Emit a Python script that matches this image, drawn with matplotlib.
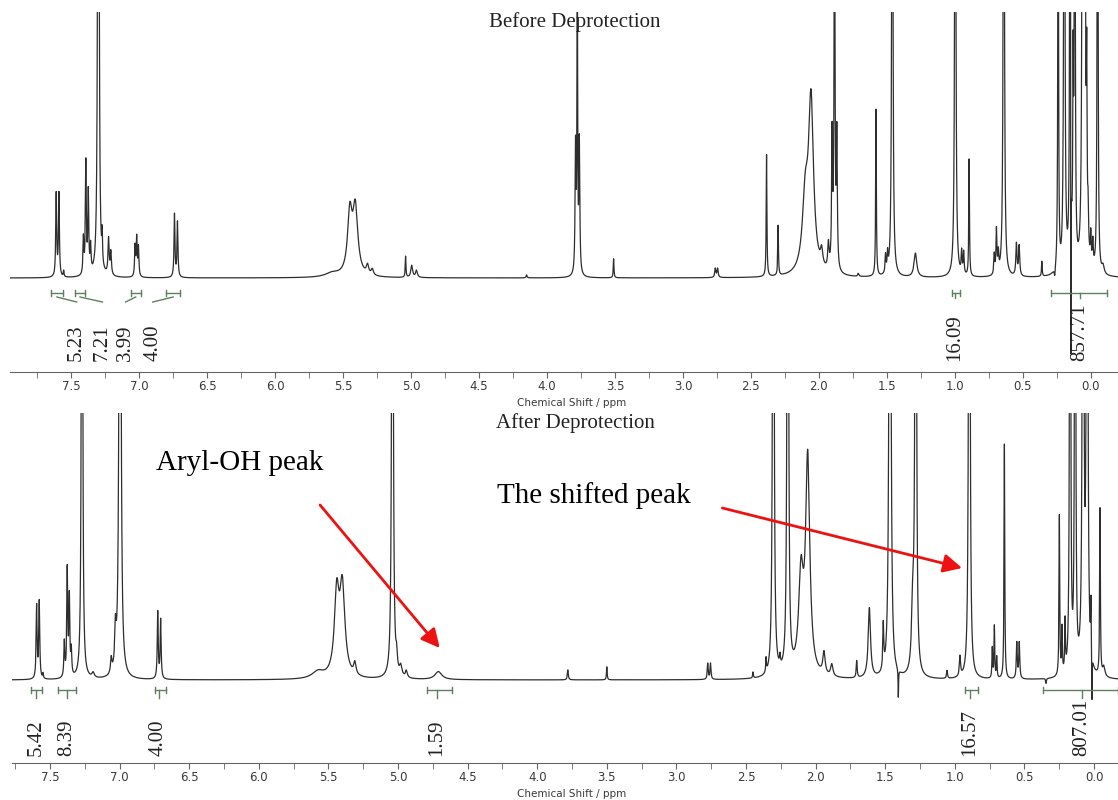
import numpy as np
import matplotlib.pyplot as plt

# chemical shift grid (ppm)
ppm = np.linspace(-0.3, 8.0, 40000)

# Before deprotection: peak list (ppm, intensity, half width)
before_pos = [7.610, 7.590, 7.555, 7.410, 7.392, 7.374, 7.357, 7.300, 7.272, 7.225,
              7.208, 7.030, 7.018, 7.005, 6.740, 6.718, 5.580, 5.450, 5.410, 5.320,
              5.285, 5.040, 4.995, 4.960, 4.150, 3.790, 3.777, 3.762, 3.510, 2.762,
              2.745, 2.385, 2.300, 2.100, 2.058, 1.980, 1.930, 1.903, 1.885, 1.868,
              1.710, 1.580, 1.510, 1.495, 1.460, 1.290, 0.997, 0.950, 0.935, 0.895,
              0.710, 0.694, 0.680, 0.640, 0.547, 0.527, 0.360, 0.265, 0.240, 0.195,
              0.152, 0.147, 0.130, 0.118, 0.060, 0.045, 0.030, 0.020, 0.000, -0.015,
              -0.050, -0.090]
before_int = [83, 83, 6, 36, 112, 81, 26, 1500, 29, 36,
              23, 30, 38, 29, 63, 55, 4, 60, 66, 9,
              6, 21, 12, 7, 3, 125, 300, 130, 19, 9,
              9, 122, 50, 70, 170, 16, 25, 130, 400, 130,
              3, 167, 18, 18, 800, 24, 800, 22, 22, 117,
              20, 44, 19, 800, 32, 30, 15, -9, 500, 800,
              900, -330, 178, 800, 900, 900, 165, 40, 30, 25,
              800, 8]
before_hw = [0.004, 0.004, 0.003, 0.004, 0.004, 0.004, 0.004, 0.0035, 0.003, 0.005,
             0.005, 0.004, 0.004, 0.004, 0.004, 0.004, 0.06, 0.02, 0.022, 0.01,
             0.01, 0.003, 0.008, 0.008, 0.004, 0.004, 0.003, 0.004, 0.003, 0.005,
             0.005, 0.003, 0.003, 0.025, 0.022, 0.01, 0.006, 0.004, 0.004, 0.004,
             0.005, 0.003, 0.004, 0.004, 0.004, 0.012, 0.004, 0.004, 0.004, 0.003,
             0.004, 0.004, 0.004, 0.004, 0.005, 0.005, 0.003, 0.004, 0.003, 0.004,
             0.003, 0.0015, 0.003, 0.003, 0.004, 0.004, 0.003, 0.004, 0.004, 0.004,
             0.003, 0.01]

# After deprotection
after_pos = [7.596, 7.577, 7.550, 7.397, 7.376, 7.361, 7.347, 7.270, 7.190, 7.060,
             7.030, 6.997, 6.726, 6.705, 5.575, 5.440, 5.400, 5.310, 5.040, 5.010,
             4.980, 4.940, 4.710, 3.780, 3.500, 2.775, 2.755, 2.450, 2.356, 2.304,
             2.256, 2.200, 2.105, 2.057, 1.940, 1.884, 1.705, 1.614, 1.514, 1.466,
             1.406, 1.302, 1.281, 1.056, 0.963, 0.896, 0.731, 0.716, 0.699, 0.644,
             0.555, 0.537, 0.345, 0.249, 0.230, 0.208, 0.172, 0.136, 0.079, 0.050,
             0.022, 0.015, -0.043, -0.070]
after_int = [73, 77, 5, 35, 107, 78, 25, 1200, 5, 15,
             38, 1200, 67, 59, 7, 80, 88, 12, 1200, 15,
             10, 7, 8, 10, 13, 16, 16, 6, 14, 1200,
             10, 1200, 95, 215, 22, 12, 17, 70, 45, 1200,
             -28, 65, 1200, 8, 20, 1200, 30, 52, 21, 235,
             36, 36, -5, 160, 45, 50, 1200, 1200, 1200, 1200,
             55, -50, 167, 10]
after_hw = [0.004, 0.004, 0.003, 0.004, 0.004, 0.004, 0.004, 0.0035, 0.01, 0.006,
            0.006, 0.005, 0.004, 0.004, 0.05, 0.02, 0.022, 0.01, 0.004, 0.006,
            0.01, 0.008, 0.03, 0.004, 0.003, 0.004, 0.004, 0.003, 0.003, 0.004,
            0.004, 0.004, 0.02, 0.018, 0.01, 0.01, 0.004, 0.01, 0.004, 0.005,
            0.002, 0.01, 0.004, 0.004, 0.005, 0.004, 0.003, 0.003, 0.003, 0.003,
            0.004, 0.004, 0.003, 0.003, 0.003, 0.003, 0.003, 0.003, 0.004, 0.004,
            0.003, 0.0015, 0.003, 0.01]

# integration regions (ppm from, to), values, label position
before_regions = [(7.65, 7.56), (7.47, 7.40), (7.06, 6.99), (6.80, 6.70), (1.02, 0.965), (0.29, -0.12)]
before_values = ["5.23", "7.21", "3.99", "4.00", "16.09", "857.71"]
before_label_at = [7.46, 7.27, 7.10, 6.90, 1.00, 0.08]

after_regions = [(7.64, 7.56), (7.44, 7.31), (6.745, 6.67), (4.79, 4.61), (0.927, 0.833), (0.37, -0.17)]
after_values = ["5.42", "8.39", "4.00", "1.59", "16.57", "807.01"]
after_label_at = [7.60, 7.38, 6.72, 4.72, 0.89, 0.09]


def spectrum(pos, inten, hw):
    y = np.zeros_like(ppm)
    for p, h, w in zip(pos, inten, hw):
        y += h * w**2 / ((ppm - p)**2 + w**2)
    return y


W, H = 1118, 800
fig = plt.figure(figsize=(W / 100, H / 100), dpi=100)
ax1 = fig.add_axes([10 / W, 1 - 372 / H, 1108 / W, 360 / H])
ax2 = fig.add_axes([12 / W, 1 - 763 / H, 1106 / W, 350 / H])

line_c = '#2e2e2e'
integ_c = '#5e8060'

ax1.plot(ppm, spectrum(before_pos, before_int, before_hw), color=line_c, lw=0.9)
ax2.plot(ppm, spectrum(after_pos, after_int, after_hw), color=line_c, lw=0.9)

ax1.set_xlim(7.95, -0.2)
ax1.set_ylim(-94, 266)
ax2.set_xlim(7.773, -0.172)
ax2.set_ylim(-83, 267)

for ax in (ax1, ax2):
    for s in ('top', 'left', 'right'):
        ax.spines[s].set_visible(False)
    ax.spines['bottom'].set_color('#666666')
    ax.set_yticks([])
    ax.set_xticks(np.arange(0, 8.0, 0.5))
    ax.set_xticks(np.arange(0, 8.0, 0.25), minor=True)
    ax.tick_params(axis='x', which='both', direction='out', length=4, color='#666666',
                   labelsize=8.5, labelcolor='#3a3a3a', pad=2)
    ax.xaxis.set_major_formatter(plt.FuncFormatter(lambda v, p: f"{v:.1f}"))

# integrals, top panel
for (a, b), val, lx in zip(before_regions, before_values, before_label_at):
    ax1.plot([a, b], [-15, -15], color=integ_c, lw=1)
    ax1.plot([a, a], [-18, -12], color=integ_c, lw=1)
    ax1.plot([b, b], [-18, -12], color=integ_c, lw=1)
    c = (a + b) / 2
    if abs(c - lx) > 0.05:
        ax1.plot([c, lx], [-19, -24], color=integ_c, lw=1)
    else:
        ax1.plot([lx, lx], [-15, -20], color=integ_c, lw=1)
    ax1.text(lx, -83, val, rotation=90, ha='center', va='bottom', fontsize=15,
             family='Liberation Serif', color='#222222')

# integrals, bottom panel
for (a, b), val, lx in zip(after_regions, after_values, after_label_at):
    ax2.plot([a, b], [-10, -10], color=integ_c, lw=1, clip_on=False)
    ax2.plot([a, a], [-13, -7], color=integ_c, lw=1)
    ax2.plot([b, b], [-13, -7], color=integ_c, lw=1, clip_on=False)
    ax2.plot([lx, lx], [-10, -18], color=integ_c, lw=1)
    ax2.text(lx, -76, val, rotation=90, ha='center', va='bottom', fontsize=15,
             family='Liberation Serif', color='#222222')

# titles and axis labels
fig.text(575 / W, 1 - 22 / H, 'Before Deprotection', ha='center', va='center',
         fontsize=15, family='Liberation Serif', color='#222222')
fig.text(575 / W, 1 - 423 / H, 'After Deprotection', ha='center', va='center',
         fontsize=15, family='Liberation Serif', color='#222222')
fig.text(572 / W, 1 - 403 / H, 'Chemical Shift / ppm', ha='center', va='center',
         fontsize=7.5, color='#3a3a3a')
fig.text(572 / W, 1 - 794 / H, 'Chemical Shift / ppm', ha='center', va='center',
         fontsize=7.5, color='#3a3a3a')

# annotations
ax2.text(6.135, 217, 'Aryl-OH peak', ha='center', va='center', fontsize=21,
         family='Liberation Serif', color='black')
ax2.text(3.59, 184, 'The shifted peak', ha='center', va='center', fontsize=21,
         family='Liberation Serif', color='black')
arrow = dict(arrowstyle='-|>', color='#ee1111', lw=2, mutation_scale=28, shrinkA=0, shrinkB=0)
ax2.annotate('', xy=(4.70, 32), xytext=(5.56, 175), arrowprops=arrow)
ax2.annotate('', xy=(0.948, 112), xytext=(2.67, 172), arrowprops=arrow)

fig.savefig('out.png', dpi=100)
